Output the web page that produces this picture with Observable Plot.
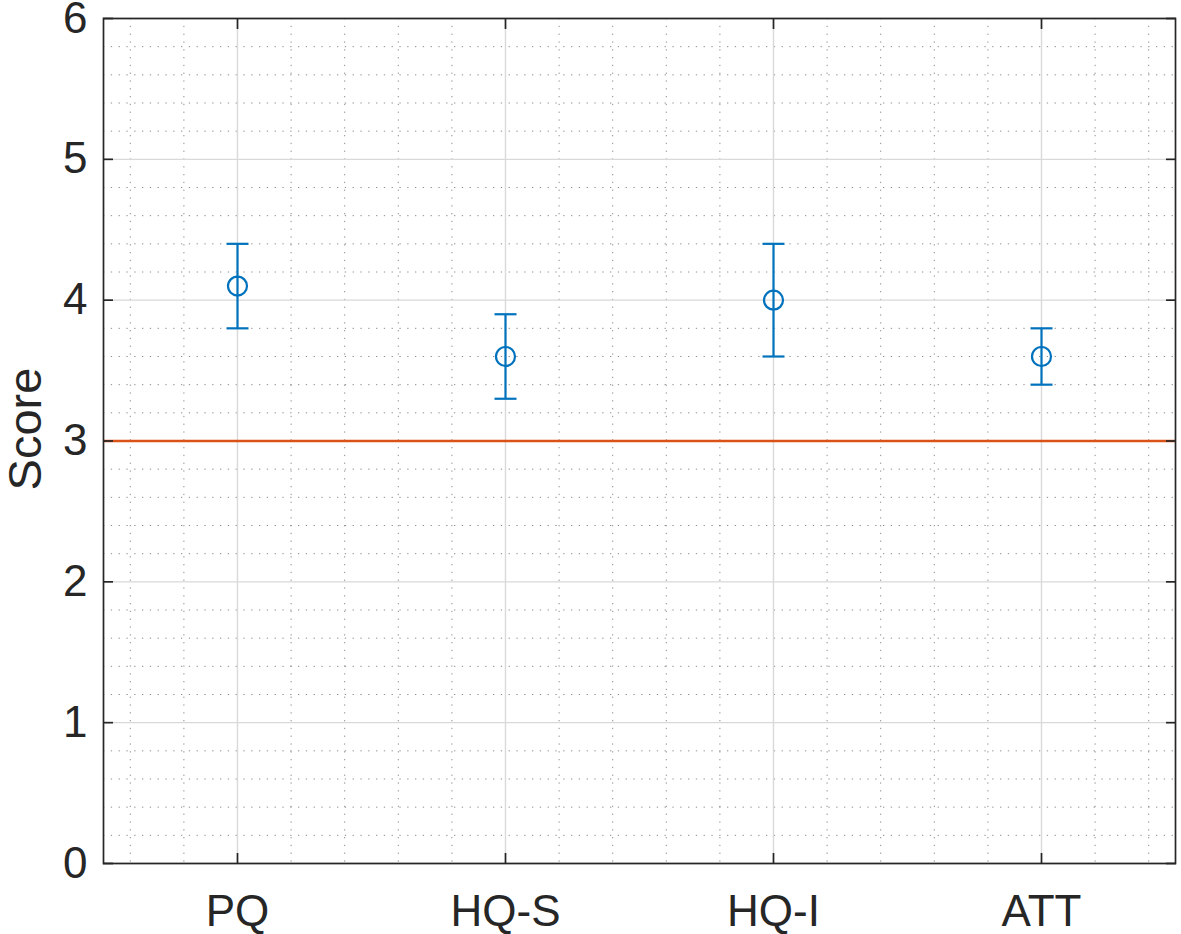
<!DOCTYPE html>
<html>
<head>
<meta charset="utf-8">
<script src="https://cdn.jsdelivr.net/npm/d3@7"></script>
<script src="https://cdn.jsdelivr.net/npm/@observablehq/plot@0.6"></script>
<style>
  html, body { margin: 0; padding: 0; background: #fff; }
  svg { display: block; }
</style>
</head>
<body>
<div id="chart"></div>
<script>
const categories = ["PQ", "HQ-S", "HQ-I", "ATT"];
const means = [4.1, 3.6, 4.0, 3.6];
const lower = [3.8, 3.3, 3.6, 3.4];
const upper = [4.4, 3.9, 4.4, 3.8];
const refLine = [3];
const yTicks = [0, 1, 2, 3, 4, 5, 6];
const xTicks = [1, 2, 3, 4];

const xMinor = d3.range(0.6, 4.45, 0.2).map(v => +v.toFixed(1)).filter(v => Math.abs(v - Math.round(v)) > 1e-6);
const yMinor = d3.range(0.2, 5.95, 0.2).map(v => +v.toFixed(1)).filter(v => Math.abs(v - Math.round(v)) > 1e-6);

const data = categories.map((c, i) => ({i: i + 1, cat: c, mean: means[i], lo: lower[i], hi: upper[i]}));

const capSymbol = {
  draw(context, size) {
    const w = Math.sqrt(size / Math.PI);
    context.moveTo(-w, 0);
    context.lineTo(w, 0);
  }
};

const blue = "#0072BD";
const ink = "#262626";
const font = "'Liberation Sans', Arial, sans-serif";

const chart = Plot.plot({
  width: 1181,
  height: 934,
  marginLeft: 103,
  marginRight: 6,
  marginTop: 18,
  marginBottom: 71,
  style: {fontFamily: font, color: ink, background: "#fff", overflow: "visible"},
  x: {domain: [0.5, 4.5]},
  y: {domain: [0, 6]},
  marks: [
    // minor grid
    Plot.ruleX(xMinor, {x: d => d, stroke: "#707070", strokeOpacity: 0.8, strokeWidth: 1, strokeDasharray: "1.3,6.5"}),
    Plot.ruleY(yMinor, {y: d => d, stroke: "#707070", strokeOpacity: 0.8, strokeWidth: 1, strokeDasharray: "1.3,6.5"}),
    // major grid
    Plot.ruleX(xTicks, {x: d => d, stroke: "#d9d9d9", strokeWidth: 1.4}),
    Plot.ruleY(yTicks, {y: d => d, stroke: "#d9d9d9", strokeWidth: 1.4}),
    // reference line
    Plot.ruleY(refLine, {y: d => d, stroke: "#D95319", strokeWidth: 2.6}),
    // error bars
    Plot.ruleX(data, {x: "i", y1: "lo", y2: "hi", stroke: blue, strokeWidth: 2.2}),
    Plot.dot(data, {x: "i", y: "lo", r: 11, symbol: capSymbol, stroke: blue, strokeWidth: 2.2, fill: "none"}),
    Plot.dot(data, {x: "i", y: "hi", r: 11, symbol: capSymbol, stroke: blue, strokeWidth: 2.2, fill: "none"}),
    Plot.dot(data, {x: "i", y: "mean", r: 9.5, stroke: blue, strokeWidth: 2.2, fill: "none"}),
    // frame
    Plot.frame({stroke: ink, strokeWidth: 1.7}),
    // tick labels
    Plot.axisX({anchor: "bottom", ticks: xTicks, tickFormat: d => categories[d - 1], tickSize: 0, tickPadding: 31, fontSize: 44, label: null, fill: ink}),
    Plot.axisY({anchor: "left", ticks: yTicks, tickFormat: d => String(d), tickSize: 0, tickPadding: 16, fontSize: 44, label: null, fill: ink}),
    // inward ticks
    Plot.axisX({anchor: "bottom", ticks: xTicks, tickFormat: () => "", tickSize: -10, label: null, stroke: ink, strokeWidth: 1.7}),
    Plot.axisX({anchor: "top", ticks: xTicks, tickFormat: () => "", tickSize: -10, label: null, stroke: ink, strokeWidth: 1.7}),
    Plot.axisY({anchor: "left", ticks: yTicks, tickFormat: () => "", tickSize: -10, label: null, stroke: ink, strokeWidth: 1.7}),
    Plot.axisY({anchor: "right", ticks: yTicks, tickFormat: () => "", tickSize: -10, label: null, stroke: ink, strokeWidth: 1.7}),
    // y axis title
    Plot.text(["Score"], {frameAnchor: "left", text: d => d, rotate: -90, textAnchor: "middle", lineAnchor: "middle", dx: -78, dy: -12, fontSize: 47, fill: ink})
  ]
});

document.getElementById("chart").appendChild(chart);
</script>
</body>
</html>
